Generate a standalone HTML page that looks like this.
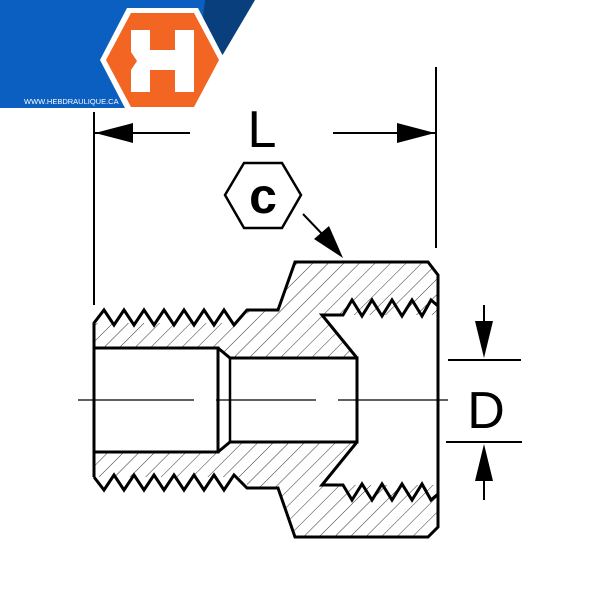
<!DOCTYPE html>
<html><head><style>html,body{margin:0;padding:0;background:#fff}</style></head>
<body>
<svg width="600" height="600" viewBox="0 0 600 600" xmlns="http://www.w3.org/2000/svg">
<defs>
<pattern id="h" width="11" height="11" patternUnits="userSpaceOnUse" patternTransform="rotate(45)">
<line x1="0" y1="0" x2="0" y2="11" stroke="#000" stroke-width="0.8"/>
</pattern>
</defs>
<!-- logo -->
<polygon points="0,0 215,0 175,108 0,108" fill="#0b5fc0"/>
<polygon points="205,0 255,0 222,56 200,42" fill="#0a3f7e"/>
<polygon points="100,60 127,8 198,8 225,60 198,112 127,112" fill="#fff"/>
<polygon points="106,60 131,13 194,13 219,60 194,107 131,107" fill="#f26522"/>
<polygon points="131,30 150,30 150,50 175,50 175,30 194,30 194,92 175,92 175,70 150,70 150,92 131,92 131,70 137,61 131,52" fill="#fff"/>
<text x="24" y="104" font-family="Liberation Sans, sans-serif" font-size="7.5" fill="#fff">WWW.HEBDRAULIQUE.CA</text>

<path d="M94,323 L94,477 L247,477 L247,488 L278,488 L295,537 L428,537 L438,527 L438,275 L428,262 L295,262 L278,310 L247,310 L247,323 Z" fill="url(#h)"/>
<path d="M94,348 L218,348 L230,358 L357,358 L322,315 L438,315 L438,485 L322,485 L357,442 L230,442 L218,452 L94,452 Z" fill="#fff"/>

<g fill="none" stroke="#000" stroke-width="3" stroke-linejoin="miter">
<path d="M94,477 L94,323 L104,310 L114,325 L124,310 L134,325 L144,310 L154,325 L164,310 L174,325 L184,310 L194,325 L204,310 L214,325 L224,310 L234,325 L247,310 L278,310 L295,262 L428,262 L438,275 L438,527 L428,537 L295,537 L278,488 L247,488 L234,475 L224,490 L214,475 L204,490 L194,475 L184,490 L174,475 L164,490 L154,475 L144,490 L134,475 L124,490 L114,475 L104,490 L94,477"/>
<path d="M94,348 L218,348 L218,452 L94,452"/>
<path d="M218,348 L230,358 L357,358 L357,442 L230,442 L218,452"/>
<line x1="230" y1="358" x2="230" y2="442" stroke-width="2.5"/>
<path d="M357,358 L322,315 L343,315 L352,300 L362,316 L372,300 L382,316 L392,300 L402,316 L412,300 L422,316 L431,300 L438,306"/>
<path d="M357,442 L322,485 L343,485 L352,500 L362,484 L372,500 L382,484 L392,500 L402,484 L412,500 L422,484 L431,500 L438,494"/>
</g>
<g stroke="#000" stroke-width="1.3">
<line x1="78" y1="400" x2="194" y2="400"/>
<line x1="216" y1="400" x2="316" y2="400"/>
<line x1="338" y1="400" x2="448" y2="400"/>
<line x1="94" y1="112" x2="94" y2="305" stroke-width="2"/>
<line x1="436" y1="67" x2="436" y2="248" stroke-width="2"/>
<line x1="95" y1="133" x2="190" y2="133" stroke-width="2"/>
<line x1="333" y1="133" x2="435" y2="133" stroke-width="2"/>
<line x1="448" y1="360" x2="521" y2="360" stroke-width="2"/>
<line x1="446" y1="442" x2="522" y2="442" stroke-width="2"/>
<line x1="484" y1="305" x2="484" y2="325" stroke-width="2"/>
<line x1="484" y1="478" x2="484" y2="500" stroke-width="2"/>
<line x1="303" y1="214" x2="325" y2="237" stroke-width="2"/>
</g>
<polygon points="95,133 133,123 133,143" fill="#000"/>
<polygon points="435,133 397,123 397,143" fill="#000"/>
<polygon points="484,358 475,321 493,321" fill="#000"/>
<polygon points="484,444 475,481 493,481" fill="#000"/>
<polygon points="343,258 314,239 329,226" fill="#000"/>
<text x="262" y="147" font-family="Liberation Sans, sans-serif" font-size="52" text-anchor="middle">L</text>
<text x="486" y="428" font-family="Liberation Sans, sans-serif" font-size="52" text-anchor="middle">D</text>
<polygon points="225,195 244,163 282,163 301,195 282,228 244,228" fill="none" stroke="#000" stroke-width="2.5"/>
<text x="263" y="213" font-family="Liberation Sans, sans-serif" font-weight="bold" font-size="50" text-anchor="middle">c</text>
</svg>
</body></html>
